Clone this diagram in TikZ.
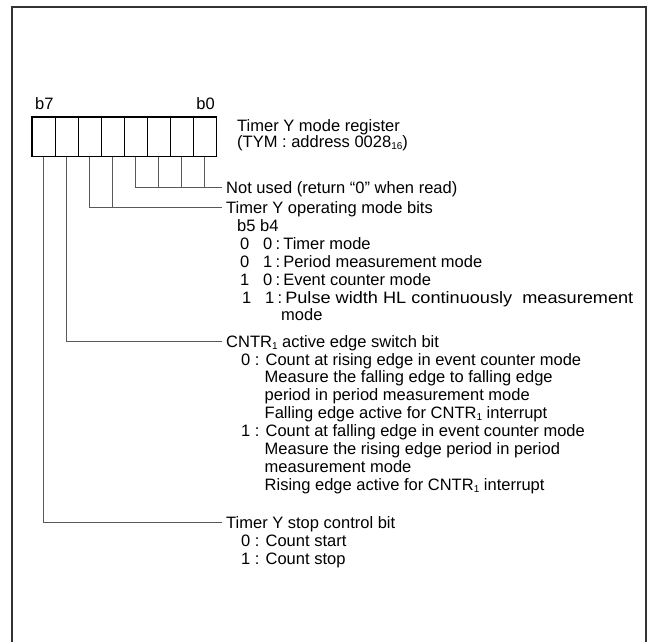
\documentclass[tikz,border=0pt]{standalone}
\usepackage{fontspec}
\setmainfont{Liberation Sans}
\newcommand{\regsub}[1]{\raisebox{-0.25ex}{\fontsize{10}{10}\selectfont #1}}
\newcommand{\bitpair}[2]{\makebox[23pt][l]{#1}\makebox[12.5pt][l]{#2}:\hspace{3pt}}
\tikzset{
  cell/.style={draw,line width=1pt,minimum width=23pt,minimum height=39pt,
    inner sep=0pt},
  txt/.style={anchor=base west,inner sep=0pt,font=\fontsize{16.5}{18}\selectfont},
  title/.style={txt,inner xsep=4pt,text height=12pt,text depth=0pt},
  leader/.style={draw=black!65,line width=1pt},
  frame/.style={draw=black!80,line width=2pt}
}
\begin{document}
\begin{tikzpicture}[x=1pt,y=-1pt]
 \useasboundingbox (0,0) rectangle (648,642);
 \draw[frame] (12,642) -- (12,7) -- (646,7) -- (646,642);
 % register cells, b7 on the left
 \foreach \i in {0,...,7}
 {\node[cell] (c\i) at ({32+23*(7-\i)+11.5},136.5) {};}
 \draw[line width=1.8pt] (c7.north west) rectangle (c0.south east);
 \node[txt] (b7) at (35,110) {b7};
 \node[txt,anchor=base east] (b0) at (215,110) {b0};
 \node[txt] (reg) at (237,131) {Timer Y mode register};
 \node[txt] (addr) at (237,147) {(TYM : address 0028\regsub{16})};
 % bit field titles
 \node[title] (unused) at (222,193) {Not used (return “0” when read)};
 \node[title] (opmode) at (222,213) {Timer Y operating mode bits};
 \node[title] (edge) at (222,347) {CNTR\regsub{1} active edge switch bit};
 \node[title] (stop) at (222,528) {Timer Y stop control bit};
 % descriptions
 \foreach \y/\x/\t in {231/237/\makebox[23pt][l]{b5}b4,
   249/240/\bitpair{0}{0}Timer mode,
   267/240/\bitpair{0}{1}Period measurement mode,
   285/240/\bitpair{1}{0}Event counter mode,
   303/242/\bitpair{1}{1}\scalebox{1.1}[1]{Pulse width HL continuously\ \ measurement},
   320/281/mode,
   365/241/0 : Count at rising edge in event counter mode,
   382/264.5/Measure the falling edge to falling edge,
   400/264.5/period in period measurement mode,
   418/264.5/Falling edge active for CNTR\regsub{1} interrupt,
   436/241/1 : Count at falling edge in event counter mode,
   454/264.5/Measure the rising edge period in period,
   472/264.5/measurement mode,
   490/264.5/Rising edge active for CNTR\regsub{1} interrupt,
   546/241/0 : Count start,564/241/1 : Count stop}
 {\node[txt] (l\y) at (\x,\y) {\t};}
 % leaders
 \draw[leader] (c3.south) |- (unused.west);
 \foreach \b in {2,1,0}
 {\draw[leader] (c\b.south) -- (c\b.south |- unused.west);}
 \draw[leader] (c5.south) |- (opmode.west);
 \draw[leader] (c4.south) -- (c4.south |- opmode.west);
 \draw[leader] (c6.south) |- (edge.west);
 \draw[leader] (c7.south) |- (stop.west);
\end{tikzpicture}
\end{document}
